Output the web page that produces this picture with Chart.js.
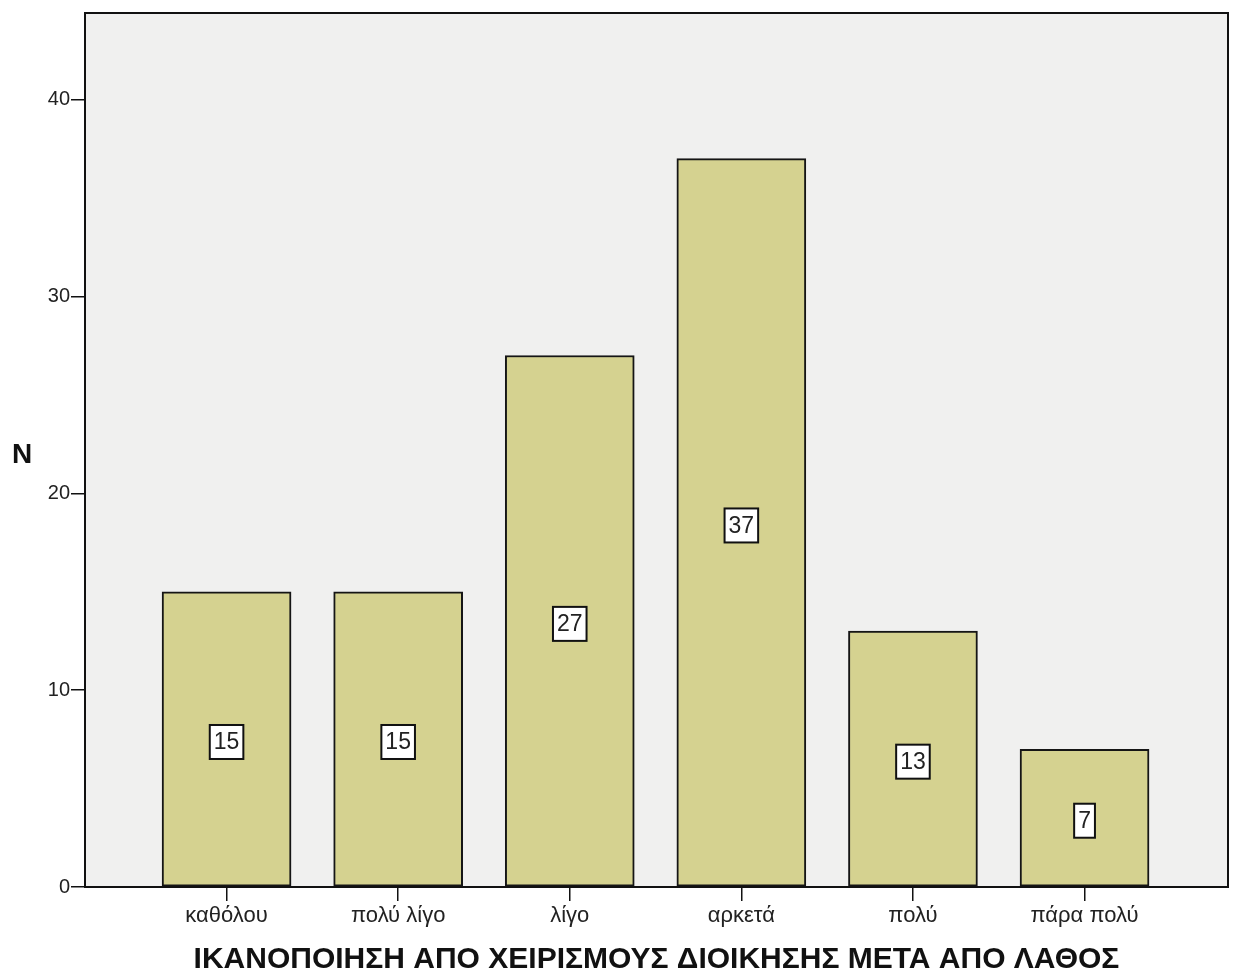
<!DOCTYPE html>
<html>
<head>
<meta charset="utf-8">
<script src="https://cdn.jsdelivr.net/npm/chart.js@4/dist/chart.umd.min.js"></script>
<style>
  html, body { margin: 0; padding: 0; background: #fff; }
  #wrap { width: 1238px; height: 978px; }
</style>
</head>
<body>
<div id="wrap"><canvas id="barChart" width="1238" height="978"></canvas></div>
<script>
// data
const categories = ['καθόλου', 'πολύ λίγο', 'λίγο', 'αρκετά', 'πολύ', 'πάρα πολύ'];
const counts = [15, 15, 27, 37, 13, 7];
const yTicks = [0, 10, 20, 30, 40];
const xTitle = 'ΙΚΑΝΟΠΟΙΗΣΗ ΑΠΟ ΧΕΙΡΙΣΜΟΥΣ ΔΙΟΙΚΗΣΗΣ ΜΕΤΑ ΑΠΟ ΛΑΘΟΣ';
const yTitle = 'N';

const FONT = '"Liberation Sans", Arial, sans-serif';

// grey plot background + frame + axis titles
const frame = {
    id: 'frame',
    beforeDraw(chart) {
        const a = chart.chartArea, c = chart.ctx;
        c.save();
        c.fillStyle = '#f0f0ef';
        c.fillRect(a.left, a.top, a.right - a.left, a.bottom - a.top);
        c.restore();
    },
    afterDraw(chart) {
        const a = chart.chartArea, c = chart.ctx;
        c.save();
        c.strokeStyle = '#111';
        c.lineWidth = 2;
        c.strokeRect(a.left, a.top, a.right - a.left, a.bottom - a.top);
        c.fillStyle = '#111';
        c.textAlign = 'center';
        c.textBaseline = 'middle';
        c.font = 'bold 28px ' + FONT;
        c.fillText(yTitle, 22, 455);
        c.font = 'bold 30px ' + FONT;
        c.fillText(xTitle, (a.left + a.right) / 2, 960);
        c.restore();
    }
};

// white boxes with the count in the middle of each bar
const valueBoxes = {
    id: 'valueBoxes',
    afterDatasetsDraw(chart) {
        const c = chart.ctx;
        const meta = chart.getDatasetMeta(0);
        c.save();
        c.font = '23px ' + FONT;
        c.textAlign = 'center';
        c.textBaseline = 'middle';
        meta.data.forEach((bar, i) => {
            const txt = String(counts[i]);
            const w = c.measureText(txt).width + 8;
            const h = 34;
            const cx = bar.x, cy = (bar.y + bar.base) / 2 + 3;
            c.fillStyle = '#fff';
            c.fillRect(cx - w / 2, cy - h / 2, w, h);
            c.strokeStyle = '#111';
            c.lineWidth = 2;
            c.strokeRect(cx - w / 2, cy - h / 2, w, h);
            c.fillStyle = '#222';
            c.fillText(txt, cx, cy + 1);
        });
        c.restore();
    }
};

const ctx = document.getElementById('barChart').getContext('2d');
const barChart = new Chart(ctx, {
    type: 'bar',
    data: {
        datasets: [{
            data: counts.map((v, i) => ({ x: i, y: v })),
            backgroundColor: '#d5d290',
            borderColor: '#151515',
            borderWidth: 2,
            borderSkipped: false,
            barThickness: 129
        }]
    },
    options: {
        responsive: false,
        animation: false,
        layout: { padding: { top: 12, right: 10, left: 0, bottom: 0 } },
        plugins: { legend: { display: false }, tooltip: { enabled: false } },
        scales: {
            x: {
                type: 'linear',
                offset: false,
                min: -0.825,
                max: 5.836,
                afterBuildTicks(scale) {
                    scale.ticks = categories.map((c, i) => ({ value: i }));
                },
                afterFit(scale) { scale.height = 91; },
                grid: { offset: false, drawOnChartArea: false, drawTicks: true, tickLength: 14, color: '#111', lineWidth: 1.5 },
                border: { display: false },
                ticks: {
                    autoSkip: false,
                    maxRotation: 0,
                    padding: 2,
                    color: '#222',
                    font: { family: FONT, size: 22 },
                    callback: (v) => categories[v]
                }
            },
            y: {
                min: 0,
                max: 44.4,
                afterBuildTicks(scale) {
                    scale.ticks = yTicks.map(v => ({ value: v }));
                },
                afterFit(scale) { scale.width = 85; },
                grid: { drawOnChartArea: false, drawTicks: true, tickLength: 14, color: '#111', lineWidth: 1.5 },
                border: { display: false },
                ticks: {
                    padding: 1,
                    color: '#222',
                    font: { family: FONT, size: 20 }
                }
            }
        }
    },
    plugins: [frame, valueBoxes]
});
</script>
</body>
</html>
